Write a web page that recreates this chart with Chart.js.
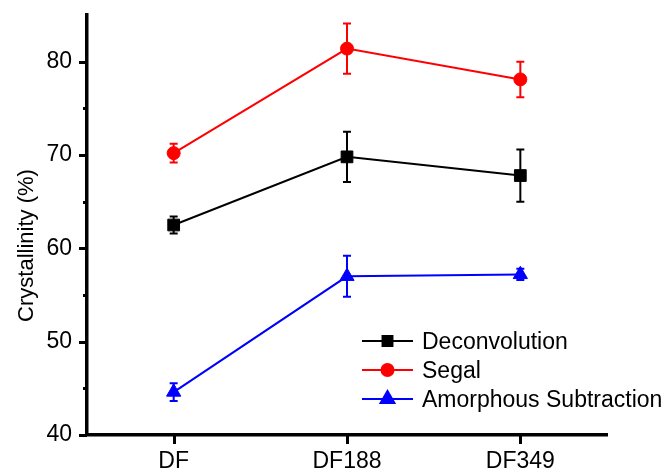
<!DOCTYPE html>
<html>
<head>
<meta charset="utf-8">
<script src="https://cdn.jsdelivr.net/npm/chart.js@4/dist/chart.umd.min.js"></script>
<style>
  html, body { margin: 0; padding: 0; background: #fff; }
  canvas { display: block; }
</style>
</head>
<body>
<canvas id="c" width="672" height="469"></canvas>
<script>
// Samples and crystallinity index (%) per method, with standard deviations
const categories = ['DF', 'DF188', 'DF349'];
const deconvolution = [62.5, 69.8, 67.8];
const deconvolutionErr = [0.9, 2.7, 2.8];
const segal = [70.2, 81.4, 78.1];
const segalErr = [1.0, 2.7, 1.9];
const amorphous = [44.6, 57.0, 57.2];
const amorphousErr = [0.95, 2.2, 0.6];
const yTicks = [40, 50, 60, 70, 80];
const yMinorTicks = [45, 55, 65, 75];
const yTitle = 'Crystallinity (%)';

const FONT = '"Liberation Sans", Arial, sans-serif';

// Error bars, axis tick marks, legend and rotated y title
const extras = {
  id: 'extras',
  beforeDatasetsDraw(chart) {
    const ctx = chart.ctx;
    const xs = chart.scales.x, ys = chart.scales.y;
    chart.data.datasets.forEach(ds => {
      ctx.save();
      ctx.strokeStyle = ds.borderColor;
      ctx.lineWidth = 2;
      ds.data.forEach((v, i) => {
        const e = ds.errors[i];
        const x = xs.getPixelForValue(i);
        const yt = ys.getPixelForValue(v + e);
        const yb = ys.getPixelForValue(v - e);
        ctx.beginPath();
        ctx.moveTo(x, yt); ctx.lineTo(x, yb);
        ctx.moveTo(x - 4, yt); ctx.lineTo(x + 4, yt);
        ctx.moveTo(x - 4, yb); ctx.lineTo(x + 4, yb);
        ctx.stroke();
      });
      ctx.restore();
    });
  },
  afterDraw(chart) {
    const ctx = chart.ctx;
    const xs = chart.scales.x, ys = chart.scales.y;
    const area = chart.chartArea;
    ctx.save();
    ctx.strokeStyle = '#000';
    ctx.lineWidth = 3;
    ctx.beginPath();
    yTicks.forEach(v => {
      const y = Math.round(ys.getPixelForValue(v)) + 0.5;
      ctx.moveTo(area.left, y); ctx.lineTo(area.left - 8, y);
    });
    yMinorTicks.forEach(v => {
      const y = Math.round(ys.getPixelForValue(v)) + 0.5;
      ctx.moveTo(area.left, y); ctx.lineTo(area.left - 4, y);
    });
    categories.forEach((c, i) => {
      const x = Math.round(xs.getPixelForValue(i)) + 0.5;
      ctx.moveTo(x, area.bottom); ctx.lineTo(x, area.bottom + 9);
    });
    ctx.stroke();

    // y title
    ctx.fillStyle = '#000';
    ctx.font = '22px ' + FONT;
    ctx.textAlign = 'center';
    ctx.textBaseline = 'alphabetic';
    ctx.translate(32.5, 245.5);
    ctx.rotate(-Math.PI / 2);
    ctx.fillText(yTitle, 0, 0);
    ctx.restore();

    // legend
    ctx.save();
    const x0 = 362, x1 = 413, tx = 422;
    let y = 341;
    chart.data.datasets.forEach(ds => {
      ctx.strokeStyle = ds.borderColor;
      ctx.lineWidth = 2;
      ctx.beginPath();
      ctx.moveTo(x0, y); ctx.lineTo(x1, y);
      ctx.stroke();
      Chart.helpers.drawPoint(ctx, {
        pointStyle: ds.pointStyle,
        radius: ds.legendRadius,
        borderWidth: 1
      }, (x0 + x1) / 2, y);
      ctx.fillStyle = ds.borderColor;
      ctx.fill();
      ctx.fillStyle = '#000';
      ctx.font = '23px ' + FONT;
      ctx.textAlign = 'left';
      ctx.textBaseline = 'alphabetic';
      ctx.fillText(ds.label, tx, y + 8.4);
      y += 29;
    });
    ctx.restore();
  }
};

function series(label, data, errors, color, style, radius, legendRadius) {
  return {
    label, data, errors,
    borderColor: color,
    backgroundColor: color,
    pointBackgroundColor: color,
    pointBorderColor: color,
    pointBorderWidth: 1,
    pointStyle: style,
    pointRadius: radius,
    legendRadius,
    borderWidth: 2,
    tension: 0,
    fill: false
  };
}

new Chart(document.getElementById('c'), {
  type: 'line',
  data: {
    labels: categories,
    datasets: [
      series('Deconvolution', deconvolution, deconvolutionErr, '#000000', 'rect', 8.3, 7),
      series('Segal', segal, segalErr, '#ff0000', 'circle', 6.5, 6),
      series('Amorphous Subtraction', amorphous, amorphousErr, '#0000ff', 'triangle', 8.2, 8)
    ]
  },
  options: {
    responsive: false,
    animation: false,
    devicePixelRatio: 1,
    layout: { padding: { left: 0, right: 65, top: 15, bottom: 0 } },
    plugins: { legend: { display: false }, tooltip: { enabled: false } },
    scales: {
      x: {
        type: 'category',
        offset: true,
        grid: { display: true, drawOnChartArea: false, drawTicks: false },
        border: { display: true, color: '#000', width: 3.5 },
        ticks: { color: '#000', font: { family: FONT, size: 23 }, padding: 13, maxRotation: 0 },
        afterFit(s) { s.height = 34; s.paddingLeft = 0; s.paddingRight = 0; }
      },
      y: {
        min: 40, max: 85,
        grid: { display: true, drawOnChartArea: false, drawTicks: false },
        border: { display: true, color: '#000', width: 3.5 },
        ticks: { color: '#000', font: { family: FONT, size: 23 }, padding: 15 },
        afterBuildTicks(s) { s.ticks = yTicks.map(v => ({ value: v })); },
        afterFit(s) { s.width = 87; s.paddingTop = 0; s.paddingBottom = 0; }
      }
    }
  },
  plugins: [extras]
});
</script>
</body>
</html>
